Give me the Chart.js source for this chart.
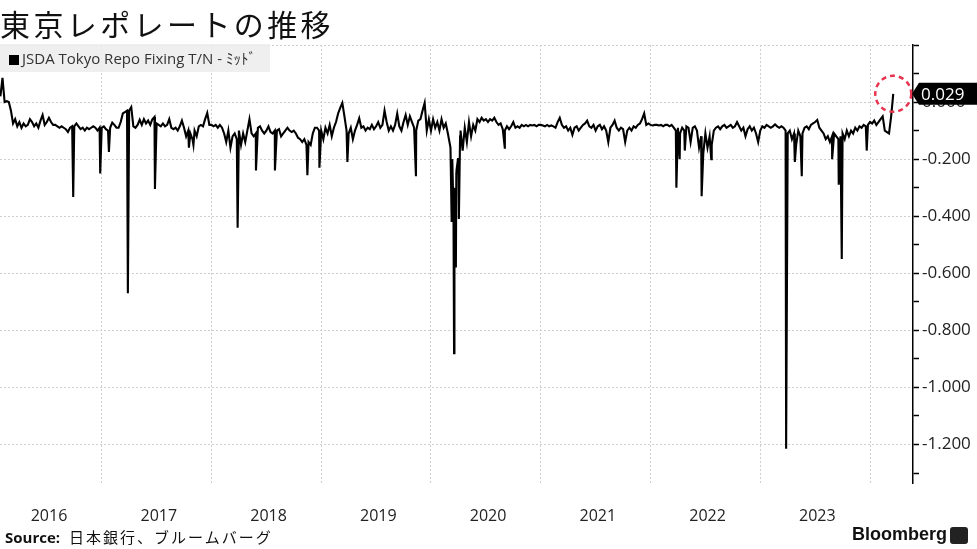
<!DOCTYPE html>
<html lang="ja">
<head>
<meta charset="utf-8">
<title>東京レポレートの推移</title>
<script src="https://cdn.jsdelivr.net/npm/chart.js@4.4.1/dist/chart.umd.min.js"></script>
<style>
  html, body { margin: 0; padding: 0; background: #fff; }
  #wrap { position: relative; width: 977px; height: 549px; overflow: hidden; }
  #chart { position: absolute; left: 0; top: 0; }
  .title { position: absolute; left: 0; top: 1px; font: 30px 'Noto Sans CJK JP', sans-serif; letter-spacing: 3.4px; color: #111; white-space: nowrap; }
  .legend { position: absolute; left: 0; top: 44px; width: 270px; height: 28px; background: rgba(236, 236, 236, .85);
            font: 15px 'Open Sans', 'Noto Sans CJK JP', sans-serif; color: #333; line-height: 28px; white-space: nowrap; }
  .legend i { display: inline-block; width: 10px; height: 10px; background: #000; margin: 0 3px 0 9px; vertical-align: -1px; }
  .source { position: absolute; left: 5px; top: 526px; font: 15px 'Noto Sans CJK JP', sans-serif; letter-spacing: 2px; color: #111; white-space: nowrap; }
  .source b { font: bold 15px 'Open Sans', sans-serif; letter-spacing: 0; margin-right: 9px; }
  .logo { position: absolute; left: 852px; top: 524px; font: bold 18px 'Liberation Sans', Arial, sans-serif; color: #111; white-space: nowrap; }
  .logo span { position: absolute; left: 98px; top: 3px; width: 18px; height: 17px; background: #222; border-radius: 3px; }
</style>
</head>
<body>
<div id="wrap">
  <canvas id="chart" width="977" height="549"></canvas>
  <div class="title">東京レポレートの推移</div>
  <div class="legend"><i></i>JSDA Tokyo Repo Fixing T/N - ﾐｯﾄﾞ</div>
  <div class="source"><b>Source:</b>日本銀行、ブルームバーグ</div>
  <div class="logo">Bloomberg<span></span></div>
</div>
<script>
    "use strict";

    // weekly readings (one value per week, starting Jan 1 of each year)
    const seriesYears = [2016, 2017, 2018, 2019, 2020, 2021, 2022, 2023, 2024];
    const r2016 = [null, null, null, null, 0.02, 0.085, 0.0, 0.003, 0.0, -0.03, -0.075, -0.06, -0.085, -0.07, -0.09, -0.075,
        -0.085, -0.08, -0.06, -0.07, -0.085, -0.075, -0.09, -0.065, -0.045, -0.08, -0.07, -0.055, -0.07, -0.08, -0.08, -0.085,
        -0.09, -0.085, -0.09, -0.095, -0.105, -0.09, -0.085, -0.085, -0.075, -0.085, -0.095, -0.09, -0.1, -0.09, -0.095, -0.09,
        -0.085, -0.09, -0.1, -0.09];
    const r2017 = [-0.09, -0.085, -0.095, -0.1, -0.09, -0.072, -0.08, -0.09, -0.09, -0.07, -0.04, -0.035, -0.03, -0.03, -0.018, -0.085,
        -0.09, -0.08, -0.062, -0.08, -0.06, -0.075, -0.065, -0.08, -0.06, -0.052, -0.075, -0.08, -0.085, -0.075, -0.085, -0.08,
        -0.06, -0.09, -0.095, -0.09, -0.1, -0.085, -0.065, -0.09, -0.12, -0.1, -0.11, -0.13, -0.1, -0.12, -0.085, -0.08,
        -0.085, -0.06, -0.038, -0.08];
    const r2018 = [-0.08, -0.085, -0.08, -0.09, -0.08, -0.09, -0.11, -0.14, -0.1, -0.16, -0.12, -0.11, -0.13, -0.1, -0.15, -0.11,
        -0.14, -0.1, -0.06, -0.11, -0.12, -0.11, -0.09, -0.085, -0.1, -0.11, -0.1, -0.085, -0.105, -0.11, -0.1, -0.1,
        -0.095, -0.12, -0.11, -0.1, -0.09, -0.1, -0.105, -0.1, -0.11, -0.125, -0.13, -0.14, -0.13, -0.15, -0.14, -0.15,
        -0.11, -0.09, -0.09, -0.1];
    const r2019 = [-0.1, -0.13, -0.09, -0.11, -0.08, -0.12, -0.09, -0.07, -0.04, -0.02, -0.003, -0.05, -0.1, -0.11, -0.09, -0.13,
        -0.1, -0.08, -0.057, -0.09, -0.085, -0.1, -0.09, -0.095, -0.08, -0.095, -0.085, -0.07, -0.09, -0.08, -0.03, -0.07,
        -0.1, -0.085, -0.1, -0.08, -0.04, -0.085, -0.1, -0.07, -0.045, -0.08, -0.05, -0.07, -0.09, -0.1, -0.065, -0.06,
        -0.03, -0.003, -0.1, -0.06];
    const r2020 = [-0.1, -0.06, -0.09, -0.07, -0.1, -0.06, -0.09, -0.075, -0.11, -0.15, -0.25, -0.3, -0.25, -0.2, -0.1, -0.17,
        -0.09, -0.14, -0.07, -0.12, -0.08, -0.1, -0.06, -0.07, -0.055, -0.065, -0.06, -0.07, -0.06, -0.065, -0.055, -0.07,
        -0.08, -0.075, -0.095, -0.1, -0.085, -0.095, -0.085, -0.07, -0.09, -0.085, -0.09, -0.08, -0.085, -0.08, -0.085, -0.08,
        -0.082, -0.08, -0.085, -0.08];
    const r2021 = [-0.08, -0.082, -0.085, -0.08, -0.085, -0.082, -0.085, -0.09, -0.07, -0.055, -0.08, -0.09, -0.085, -0.1, -0.09, -0.115,
        -0.09, -0.085, -0.1, -0.09, -0.08, -0.075, -0.065, -0.085, -0.09, -0.08, -0.1, -0.085, -0.08, -0.095, -0.085, -0.1,
        -0.14, -0.09, -0.08, -0.065, -0.09, -0.1, -0.09, -0.095, -0.14, -0.1, -0.09, -0.1, -0.085, -0.09, -0.08, -0.075,
        -0.06, -0.04, -0.08, -0.075];
    const r2022 = [-0.08, -0.082, -0.08, -0.08, -0.082, -0.08, -0.085, -0.08, -0.08, -0.085, -0.08, -0.09, -0.1, -0.09, -0.11, -0.09,
        -0.1, -0.085, -0.09, -0.14, -0.09, -0.085, -0.1, -0.16, -0.12, -0.18, -0.11, -0.16, -0.12, -0.15, -0.1, -0.09,
        -0.085, -0.095, -0.085, -0.08, -0.09, -0.085, -0.08, -0.09, -0.085, -0.07, -0.085, -0.1, -0.09, -0.12, -0.095, -0.085,
        -0.1, -0.09, -0.11, -0.14];
    const r2023 = [-0.1, -0.085, -0.09, -0.08, -0.085, -0.09, -0.085, -0.078, -0.085, -0.09, -0.085, -0.09, -0.1, -0.11, -0.1, -0.13,
        -0.11, -0.15, -0.1, -0.12, -0.11, -0.09, -0.085, -0.095, -0.08, -0.075, -0.07, -0.063, -0.09, -0.1, -0.11, -0.13,
        -0.12, -0.14, -0.12, -0.11, -0.12, -0.13, -0.12, -0.11, -0.13, -0.1, -0.12, -0.1, -0.11, -0.09, -0.1, -0.085,
        -0.09, -0.08, -0.085, -0.08];
    const r2024 = [-0.07, -0.075, -0.065, -0.08, -0.07, -0.06, -0.05, -0.1, -0.105, -0.11, -0.05, 0.029];

    // single-day plunges (quarter ends etc.)
    const spikeDates = ["2016-09-28", "2016-12-27", "2017-01-25", "2017-03-29", "2017-06-27", "2017-10-18", "2017-11-02",
        "2018-03-29", "2018-05-29", "2018-07-31", "2018-11-16", "2018-12-26", "2019-03-29", "2019-11-12",
        "2020-03-06", "2020-03-10", "2020-03-12", "2020-03-16", "2020-03-18", "2020-03-20", "2020-03-24", "2020-03-26",
        "2020-03-31", "2020-04-03", "2020-04-07", "2020-09-03",
        "2022-03-28", "2022-04-08", "2022-04-25", "2022-06-20", "2022-07-22",
        "2023-03-28", "2023-04-26", "2023-05-19", "2023-08-28", "2023-09-19", "2023-09-29", "2023-12-21"];
    const spikeValues = [-0.333, -0.25, -0.175, -0.67, -0.305, -0.16, -0.15,
        -0.44, -0.24, -0.24, -0.256, -0.23, -0.21, -0.26,
        -0.16, -0.42, -0.2, -0.38, -0.88, -0.3, -0.58, -0.24,
        -0.2, -0.41, -0.12, -0.16,
        -0.30, -0.20, -0.17, -0.33, -0.20,
        -1.215, -0.21, -0.26, -0.2, -0.29, -0.55, -0.17];

    const yearLabels = ["2016", "2017", "2018", "2019", "2020", "2021", "2022", "2023"];
    const yearStarts = [2017, 2018, 2019, 2020, 2021, 2022, 2023, 2024];
    const yTickValues = [0.2, 0.1, 0.0, -0.1, -0.2, -0.3, -0.4, -0.5, -0.6, -0.7, -0.8, -0.9, -1.0, -1.1, -1.2, -1.3];
    const yLabelValues = [0.0, -0.2, -0.4, -0.6, -0.8, -1.0, -1.2];

    function toYear(s) {
        const d = new Date(s + "T00:00:00Z");
        const y = d.getUTCFullYear();
        const a = Date.UTC(y, 0, 1), b = Date.UTC(y + 1, 0, 1);
        return y + (d.getTime() - a) / (b - a);
    }

    const points = [];
    [r2016, r2017, r2018, r2019, r2020, r2021, r2022, r2023, r2024].forEach(function (arr, k) {
        arr.forEach(function (v, i) {
            if (v !== null) points.push({x: seriesYears[k] + i / 52, y: v});
        });
    });
    spikeDates.forEach(function (d, i) {
        points.push({x: toYear(d), y: spikeValues[i]});
    });
    points.sort(function (a, b) { return a.x - b.x; });

    const xMin = 2016.0734, xMax = 2024.3915;
    const gridColor = "#cfcfcf";
    const isLabel = function (v) {
        return yLabelValues.some(function (l) { return Math.abs(l - v) < 1e-6; });
    };

    // last value marker: dashed circle + black price tag
    const lastValuePlugin = {
        id: "lastValue",
        afterDraw: function (chart) {
            const meta = chart.getDatasetMeta(0);
            const pt = meta.data[meta.data.length - 1];
            const last = points[points.length - 1].y;
            const ctx = chart.ctx;
            const ax = chart.scales.y.left;
            ctx.save();
            ctx.setLineDash([5, 4]);
            ctx.strokeStyle = "#e8344e";
            ctx.lineWidth = 2.5;
            ctx.beginPath();
            ctx.arc(pt.x, pt.y, 18, 0, Math.PI * 2);
            ctx.stroke();
            ctx.setLineDash([]);
            ctx.fillStyle = "#000";
            ctx.beginPath();
            ctx.moveTo(ax - 1, pt.y);
            ctx.lineTo(ax + 6, pt.y - 11);
            ctx.lineTo(977, pt.y - 11);
            ctx.lineTo(977, pt.y + 11);
            ctx.lineTo(ax + 6, pt.y + 11);
            ctx.closePath();
            ctx.fill();
            ctx.fillStyle = "#fff";
            ctx.font = "17px 'Open Sans', sans-serif";
            ctx.textBaseline = "middle";
            ctx.fillText(last.toFixed(3), ax + 8, pt.y + 1);
            ctx.restore();
        }
    };

    Chart.defaults.font.family = "'Open Sans', 'Noto Sans', sans-serif";
    Chart.defaults.color = "#222";

    new Chart(document.getElementById("chart"), {
        type: "line",
        data: {
            datasets: [{
                label: "JSDA Tokyo Repo Fixing T/N - ﾐｯﾄﾞ",
                data: points,
                borderColor: "#000",
                borderWidth: 2.1,
                pointRadius: 0,
                tension: 0,
                xAxisID: "x",
                yAxisID: "y"
            }]
        },
        options: {
            responsive: false,
            animation: false,
            devicePixelRatio: 1,
            layout: {padding: {top: 45, left: 0, right: 0, bottom: 0}},
            plugins: {legend: {display: false}, tooltip: {enabled: false}},
            scales: {
                xg: {
                    type: "linear", position: "bottom", min: xMin, max: xMax,
                    afterBuildTicks: function (s) { s.ticks = yearStarts.map(function (v) { return {value: v}; }); },
                    afterFit: function (s) { s.height = 0; },
                    ticks: {display: false},
                    grid: {color: gridColor, lineWidth: 1, drawTicks: false},
                    border: {display: false, dash: [2, 2]}
                },
                x: {
                    type: "linear", position: "bottom", min: xMin, max: xMax,
                    afterBuildTicks: function (s) { s.ticks = yearLabels.map(function (l) { return {value: Number(l) + 0.52}; }); },
                    afterFit: function (s) { s.height = 66; },
                    ticks: {
                        autoSkip: false, maxRotation: 0, padding: 24,
                        font: {size: 16}, color: "#222",
                        callback: function (v, i) { return yearLabels[i]; }
                    },
                    grid: {display: false, drawTicks: false},
                    border: {display: false}
                },
                y: {
                    type: "linear", position: "right", min: -1.335, max: 0.2,
                    afterBuildTicks: function (s) { s.ticks = yTickValues.map(function (v) { return {value: v}; }); },
                    afterFit: function (s) { s.width = 64; },
                    ticks: {
                        padding: 3, font: {size: 17}, color: "#222",
                        callback: function (v) { return isLabel(v) ? v.toFixed(3) : ""; }
                    },
                    grid: {
                        color: function (c) { return c.tick && isLabel(c.tick.value) || (c.tick && Math.abs(c.tick.value - 0.2) < 1e-6) ? gridColor : "rgba(0,0,0,0)"; },
                        tickColor: "#000", tickLength: 6, tickWidth: 1.5
                    },
                    border: {display: true, color: "#000", width: 1.5, dash: [2, 2]}
                }
            }
        },
        plugins: [lastValuePlugin]
    });
</script>
</body>
</html>
